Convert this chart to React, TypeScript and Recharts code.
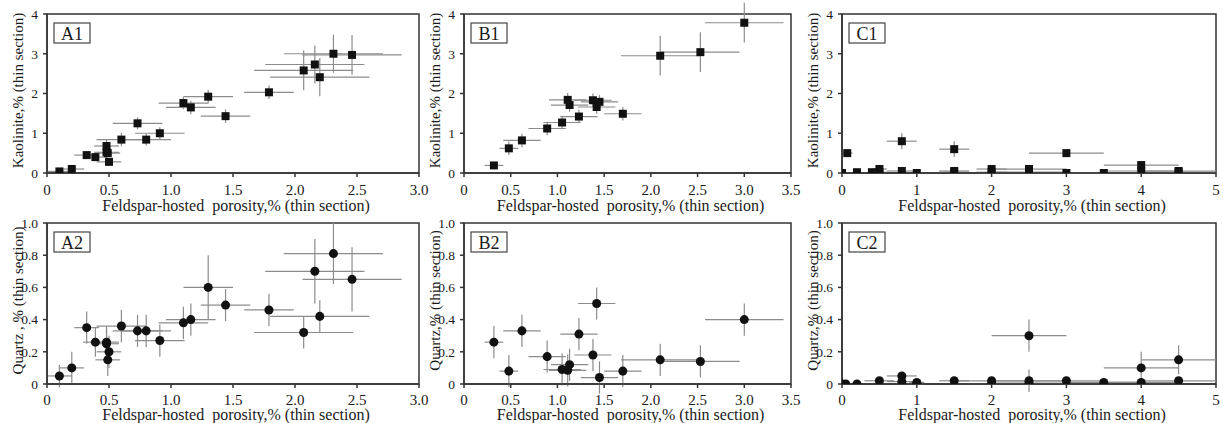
import React from 'react';
import { ScatterChart, Scatter, XAxis, YAxis, ZAxis, ErrorBar, ReferenceArea } from 'recharts';

// ---- Panel A (x: feldspar-hosted porosity) ----
const aX = [0.10, 0.20, 0.32, 0.39, 0.48, 0.48, 0.49, 0.50, 0.60, 0.73, 0.80, 0.91, 1.10, 1.16, 1.30, 1.44, 1.79, 2.07, 2.16, 2.20, 2.31, 2.46];
const aXErr = [0.1, 0.1, 0.1, 0.1, 0.1, 0.1, 0.1, 0.1, 0.2, 0.2, 0.2, 0.2, 0.2, 0.2, 0.2, 0.2, 0.2, 0.4, 0.4, 0.4, 0.4, 0.4];
const a1Y = [0.04, 0.10, 0.45, 0.40, 0.68, 0.52, 0.50, 0.28, 0.84, 1.25, 0.84, 1.00, 1.76, 1.65, 1.92, 1.43, 2.03, 2.58, 2.73, 2.41, 3.00, 2.97];
const a1YErr = [0.05, 0.05, 0.1, 0.1, 0.15, 0.15, 0.1, 0.1, 0.17, 0.15, 0.15, 0.15, 0.15, 0.17, 0.17, 0.17, 0.17, 0.5, 0.48, 0.48, 0.48, 0.5];
const a2Y = [0.05, 0.10, 0.35, 0.26, 0.26, 0.25, 0.15, 0.20, 0.36, 0.33, 0.33, 0.27, 0.38, 0.40, 0.60, 0.49, 0.46, 0.32, 0.70, 0.42, 0.81, 0.65];
const a2YErr = [0.07, 0.1, 0.1, 0.09, 0.1, 0.1, 0.1, 0.1, 0.1, 0.1, 0.1, 0.1, 0.1, 0.1, 0.2, 0.1, 0.1, 0.1, 0.2, 0.1, 0.19, 0.2];

// ---- Panel B ----
const bX = [0.32, 0.48, 0.62, 0.89, 1.05, 1.11, 1.13, 1.23, 1.38, 1.42, 1.45, 1.70, 2.10, 2.53, 3.00];
const bXErr = [0.1, 0.1, 0.2, 0.2, 0.2, 0.2, 0.2, 0.2, 0.2, 0.2, 0.2, 0.2, 0.42, 0.42, 0.42];
const b1Y = [0.19, 0.62, 0.82, 1.12, 1.27, 1.84, 1.71, 1.42, 1.83, 1.66, 1.79, 1.49, 2.95, 3.04, 3.78];
const b1YErr = [0.05, 0.17, 0.17, 0.17, 0.17, 0.17, 0.17, 0.17, 0.17, 0.17, 0.17, 0.17, 0.5, 0.5, 0.5];
const b2Y = [0.26, 0.08, 0.33, 0.17, 0.09, 0.085, 0.12, 0.31, 0.18, 0.50, 0.04, 0.08, 0.15, 0.14, 0.40];
const b2YErr = [0.1, 0.1, 0.1, 0.1, 0.1, 0.1, 0.1, 0.1, 0.1, 0.1, 0.1, 0.1, 0.1, 0.1, 0.1];

// ---- Panel C ----
const c1X = [0, 0.07, 0.2, 0.4, 0.5, 0.5, 0.8, 0.8, 1.0, 1.5, 1.5, 1.5, 2.0, 2.0, 2.5, 2.5, 3.0, 3.0, 3.5, 4.0, 4.0, 4.5, 4.5];
const c1XErr = [0, 0.07, 0.05, 0.05, 0.1, 0.1, 0.2, 0.2, 0.1, 0.2, 0.2, 0.2, 0.2, 0.2, 0.5, 0.5, 0.5, 0.5, 0.5, 0.5, 0.5, 0.5, 0.5];
const c1Y = [0, 0.5, 0.02, 0.02, 0.1, 0.02, 0.8, 0.05, 0, 0.6, 0.05, 0.02, 0.1, 0.02, 0.1, 0.02, 0.5, 0, 0, 0.2, 0.05, 0.05, 0.02];
const c1YErr = [0, 0.05, 0, 0, 0.05, 0, 0.2, 0.05, 0, 0.2, 0.05, 0, 0.05, 0, 0.05, 0, 0.05, 0, 0, 0.05, 0.05, 0.05, 0];
const c2X = [0, 0.05, 0.2, 0.5, 0.8, 0.8, 1.0, 1.0, 1.5, 2.0, 2.0, 2.5, 2.5, 2.5, 3.0, 3.5, 4.0, 4.0, 4.5, 4.5];
const c2XErr = [0, 0, 0, 0.2, 0.2, 0.2, 0.1, 0.1, 0.2, 0.5, 0.5, 0.5, 0.5, 0.5, 0.5, 0.5, 0.5, 0.5, 0.5, 0.5];
const c2Y = [0, 0, 0, 0.02, 0.05, 0.015, 0.01, 0, 0.02, 0.02, 0, 0.30, 0.02, 0.005, 0.02, 0.01, 0.10, 0.01, 0.15, 0.02];
const c2YErr = [0, 0, 0, 0.02, 0.02, 0.01, 0.01, 0, 0.01, 0.01, 0, 0.1, 0.07, 0, 0.01, 0.01, 0.1, 0.01, 0.09, 0.02];

// ---- Ticks ----
const abXTicksA = [0, 0.5, 1.0, 1.5, 2.0, 2.5, 3.0];
const abXTicksB = [0, 0.5, 1.0, 1.5, 2.0, 2.5, 3.0, 3.5];
const cXTicks = [0, 1, 2, 3, 4, 5];
const row1YTicks = [0, 1, 2, 3, 4];
const row2YTicks = [0, 0.2, 0.4, 0.6, 0.8, 1.0];

const X_TITLE = 'Feldspar-hosted\u00a0 porosity,% (thin section)';

const FONT = "'Liberation Serif', 'Times New Roman', serif";
const AX = '#333333';
const ERR = '#8c8c8c';
const PT = '#111111';

const build = (xs: number[], ys: number[], exs: number[], eys: number[]) =>
  xs.map((x, i) => ({ x, y: ys[i], ex: exs[i], ey: eys[i] }));

const fmt1 = (v: number) => (v === 0 ? '0' : v.toFixed(1));
const fmt0 = (v: number) => String(v);

type PanelProps = {
  left: number; top: number; width: number; height: number;
  margin: { top: number; right: number; bottom: number; left: number };
  yAxisWidth: number; xAxisHeight: number; xTickMargin: number; xTitleOffset: number;
  xDomain: [number, number]; yDomain: [number, number];
  xTicks: number[]; yTicks: number[];
  xFmt: (v: number) => string; yFmt: (v: number) => string;
  data: { x: number; y: number; ex: number; ey: number }[];
  shape: 'square' | 'circle'; size: number;
  tag: string; yTitle: string;
};

function Panel(p: PanelProps) {
  const plotLeft = p.margin.left + p.yAxisWidth;
  const plotTop = p.margin.top;
  const plotW = p.width - plotLeft - p.margin.right;
  const plotH = p.height - p.margin.top - p.margin.bottom - p.xAxisHeight;
  const yTitleX = plotLeft - 29.5;
  const yTitleY = plotTop + plotH / 2 - 3;
  const xTitleX = plotLeft + plotW / 2 + 3;
  const xTitleY = plotTop + plotH + p.xTitleOffset;
  const xTickStyle = { fill: '#1a1a1a', fontSize: 15, fontFamily: FONT };
  const yTickStyle = { fill: '#1a1a1a', fontSize: 13.5, fontFamily: FONT };
  return (
    <div style={{ position: 'absolute', left: p.left, top: p.top }}>
      <ScatterChart width={p.width} height={p.height} margin={p.margin}>
        <XAxis
          type="number" dataKey="x" domain={p.xDomain} ticks={p.xTicks} interval={0}
          allowDataOverflow tickFormatter={p.xFmt} height={p.xAxisHeight}
          axisLine={{ stroke: AX, strokeWidth: 1.5 }} tickLine={{ stroke: AX, strokeWidth: 1.5 }}
          tickSize={4} tickMargin={p.xTickMargin} tick={xTickStyle}
          label={{
            content: () => (
              <text x={xTitleX} y={xTitleY} textAnchor="middle" dominantBaseline="central"
                fontFamily={FONT} fontSize={16} fill="#1a1a1a">{X_TITLE}</text>
            ),
          }}
        />
        <YAxis
          type="number" dataKey="y" domain={p.yDomain} ticks={p.yTicks} interval={0}
          allowDataOverflow tickFormatter={p.yFmt} width={p.yAxisWidth}
          axisLine={{ stroke: AX, strokeWidth: 1.5 }} tickLine={{ stroke: AX, strokeWidth: 1.5 }}
          tickSize={4} tickMargin={5} tick={yTickStyle}
          label={{
            content: () => (
              <text x={yTitleX} y={yTitleY} textAnchor="middle" dominantBaseline="central"
                transform={`rotate(-90, ${yTitleX}, ${yTitleY})`}
                fontFamily={FONT} fontSize={15} fill="#1a1a1a">{p.yTitle}</text>
            ),
          }}
        />
        <ZAxis range={[p.size, p.size]} />
        <ReferenceArea
          x1={p.xDomain[0]} x2={p.xDomain[1]} y1={p.yDomain[0]} y2={p.yDomain[1]}
          fill="none" fillOpacity={0} stroke={AX} strokeWidth={1.5}
          label={{
            content: () => (
              <g>
                <rect x={plotLeft + 7} y={plotTop + 9} width={36} height={20} fill="#fff" stroke="#444" strokeWidth={1.2} />
                <text x={plotLeft + 25} y={plotTop + 19.5} textAnchor="middle" dominantBaseline="central"
                  fontFamily={FONT} fontSize={18} fill="#1a1a1a">{p.tag}</text>
              </g>
            ),
          }}
        />
        <Scatter data={p.data} shape={p.shape} fill={PT} isAnimationActive={false}>
          <ErrorBar dataKey="ex" direction="x" width={0} stroke={ERR} strokeWidth={1.2} isAnimationActive={false} />
          <ErrorBar dataKey="ey" direction="y" width={0} stroke={ERR} strokeWidth={1.2} isAnimationActive={false} />
        </Scatter>
      </ScatterChart>
    </div>
  );
}

const row1 = { top: 0, height: 215, xAxisHeight: 32, xTickMargin: 7, xTitleOffset: 32, yDomain: [0, 4] as [number, number], yTicks: row1YTicks, yFmt: fmt0, shape: 'square' as const, size: 46, yTitle: 'Kaolinite,% (thin section)' };
const row2 = { top: 205, height: 218, xAxisHeight: 36, xTickMargin: 6, xTitleOffset: 30.5, yDomain: [0, 1] as [number, number], yTicks: row2YTicks, yFmt: fmt1, shape: 'circle' as const, size: 55 };

export default function App() {
  return (
    <div style={{ position: 'absolute', left: 0, top: 0, width: 1223, height: 423, background: '#fff' }}>
      <Panel {...row1} left={0} width={440} margin={{ top: 14, right: 21, bottom: 10, left: 0 }} yAxisWidth={47}
        xDomain={[0, 3]} xTicks={abXTicksA} xFmt={fmt1} data={build(aX, a1Y, aXErr, a1YErr)} tag="A1" />
      <Panel {...row1} left={420} width={395} margin={{ top: 14, right: 24, bottom: 10, left: 0 }} yAxisWidth={44}
        xDomain={[0, 3.5]} xTicks={abXTicksB} xFmt={fmt1} data={build(bX, b1Y, bXErr, b1YErr)} tag="B1" />
      <Panel {...row1} left={795} width={428} margin={{ top: 14, right: 7, bottom: 10, left: 0 }} yAxisWidth={47}
        xDomain={[0, 5]} xTicks={cXTicks} xFmt={fmt0} data={build(c1X, c1Y, c1XErr, c1YErr)} tag="C1" />
      <Panel {...row2} left={0} width={440} margin={{ top: 18, right: 21, bottom: 3, left: 0 }} yAxisWidth={47}
        xDomain={[0, 3]} xTicks={abXTicksA} xFmt={fmt1} data={build(aX, a2Y, aXErr, a2YErr)} tag="A2"
        yTitle="Quartz , % (thin section)" />
      <Panel {...row2} left={420} width={395} margin={{ top: 18, right: 24, bottom: 3, left: 0 }} yAxisWidth={44}
        xDomain={[0, 3.5]} xTicks={abXTicksB} xFmt={fmt1} data={build(bX, b2Y, bXErr, b2YErr)} tag="B2"
        yTitle="Quartz,% (thin section)" />
      <Panel {...row2} left={795} width={428} margin={{ top: 18, right: 7, bottom: 3, left: 0 }} yAxisWidth={47}
        xDomain={[0, 5]} xTicks={cXTicks} xFmt={fmt0} data={build(c2X, c2Y, c2XErr, c2YErr)} tag="C2"
        yTitle="Quartz,% (thin section)" />
    </div>
  );
}
